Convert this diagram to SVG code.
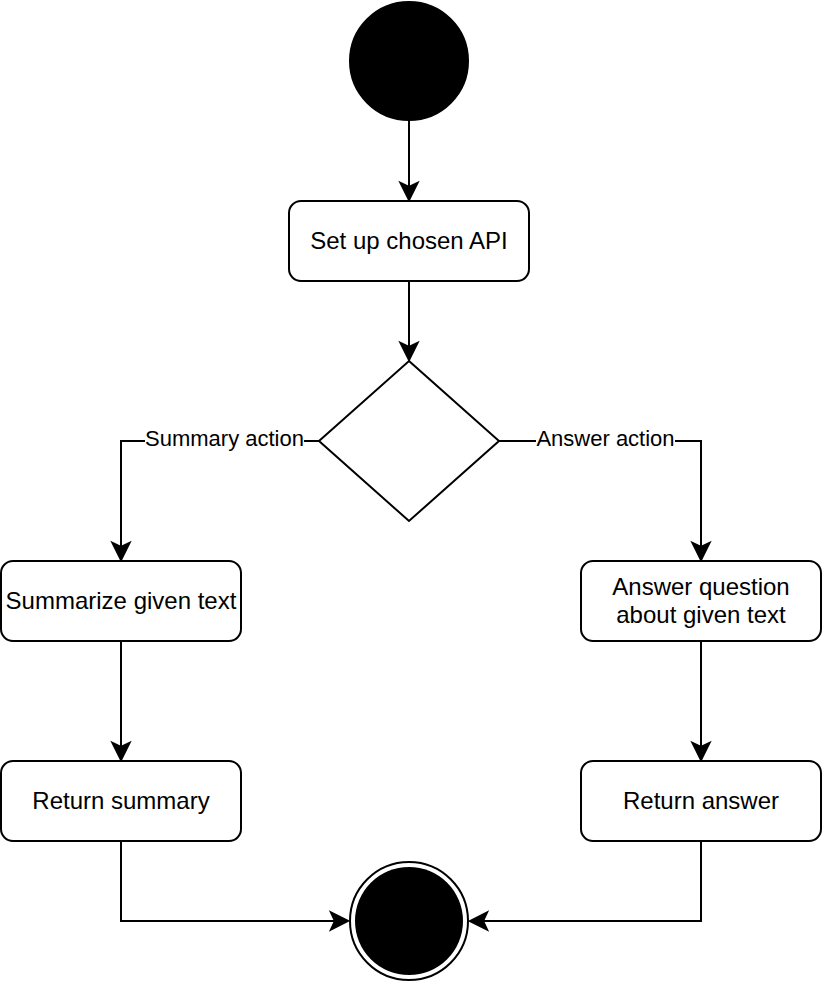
<svg xmlns="http://www.w3.org/2000/svg" width="838" height="986" viewBox="0 0 838 986">
<defs>
<style>
.node{fill:#fff;stroke:#000;stroke-width:2}
.lbl{font-family:"Liberation Sans",Arial,sans-serif;font-size:24px;fill:#000;text-anchor:middle}
.elbl{font-family:"Liberation Sans",Arial,sans-serif;font-size:22px;fill:#000;text-anchor:middle}
.edge{fill:none;stroke:#000;stroke-width:2}
</style>
<marker id="arr" markerUnits="userSpaceOnUse" viewBox="0 0 22 22" refX="20" refY="11" markerWidth="22" markerHeight="22" orient="auto">
<path d="M20 11 L3 2.5 L7 11 L3 19.5 Z" fill="#000" stroke="#000" stroke-width="2" stroke-linejoin="miter"/>
</marker>
</defs>
<rect width="838" height="986" fill="#fff"/>
<g id="connectors">
<path class="edge" d="M409 121 L409 200" marker-end="url(#arr)"/>
<path class="edge" d="M409 281 L409 360" marker-end="url(#arr)"/>
<path class="edge" d="M319 441 L121 441 L121 560" marker-end="url(#arr)"/>
<path class="edge" d="M499 441 L701 441 L701 560" marker-end="url(#arr)"/>
<path class="edge" d="M121 641 L121 760" marker-end="url(#arr)"/>
<path class="edge" d="M701 641 L701 760" marker-end="url(#arr)"/>
<path class="edge" d="M121 841 L121 921 L348 921" marker-end="url(#arr)"/>
<path class="edge" d="M701 841 L701 921 L470 921" marker-end="url(#arr)"/>
<g id="label-summary">
<rect x="145" y="428" width="159" height="24" fill="#fff"/>
<text class="elbl" x="224.5" y="446">Summary action</text>
</g>
<g id="label-answer">
<rect x="536" y="428" width="139" height="24" fill="#fff"/>
<text class="elbl" x="605.5" y="446">Answer action</text>
</g>
</g>
<g id="start">
<circle cx="409" cy="61" r="59" fill="#000" stroke="#000" stroke-width="2"/>
</g>
<g id="setup">
<rect class="node" x="289" y="201" width="240" height="80" rx="12"/>
<text class="lbl" x="409" y="249">Set up chosen API</text>
</g>
<g id="decision">
<polygon class="node" points="409,361 499,441 409,521 319,441"/>
</g>
<g id="summarize">
<rect class="node" x="1" y="561" width="240" height="80" rx="12"/>
<text class="lbl" x="121" y="609">Summarize given text</text>
</g>
<g id="answer">
<rect class="node" x="581" y="561" width="240" height="80" rx="12"/>
<text class="lbl" x="701" y="594.5">Answer question</text>
<text class="lbl" x="701" y="623">about given text</text>
</g>
<g id="return-summary">
<rect class="node" x="1" y="761" width="240" height="80" rx="12"/>
<text class="lbl" x="121" y="809">Return summary</text>
</g>
<g id="return-answer">
<rect class="node" x="581" y="761" width="240" height="80" rx="12"/>
<text class="lbl" x="701" y="809">Return answer</text>
</g>
<g id="end">
<circle cx="409" cy="921" r="59" fill="#fff" stroke="#000" stroke-width="2"/>
<circle cx="409" cy="921" r="54" fill="#000"/>
</g>
</svg>
